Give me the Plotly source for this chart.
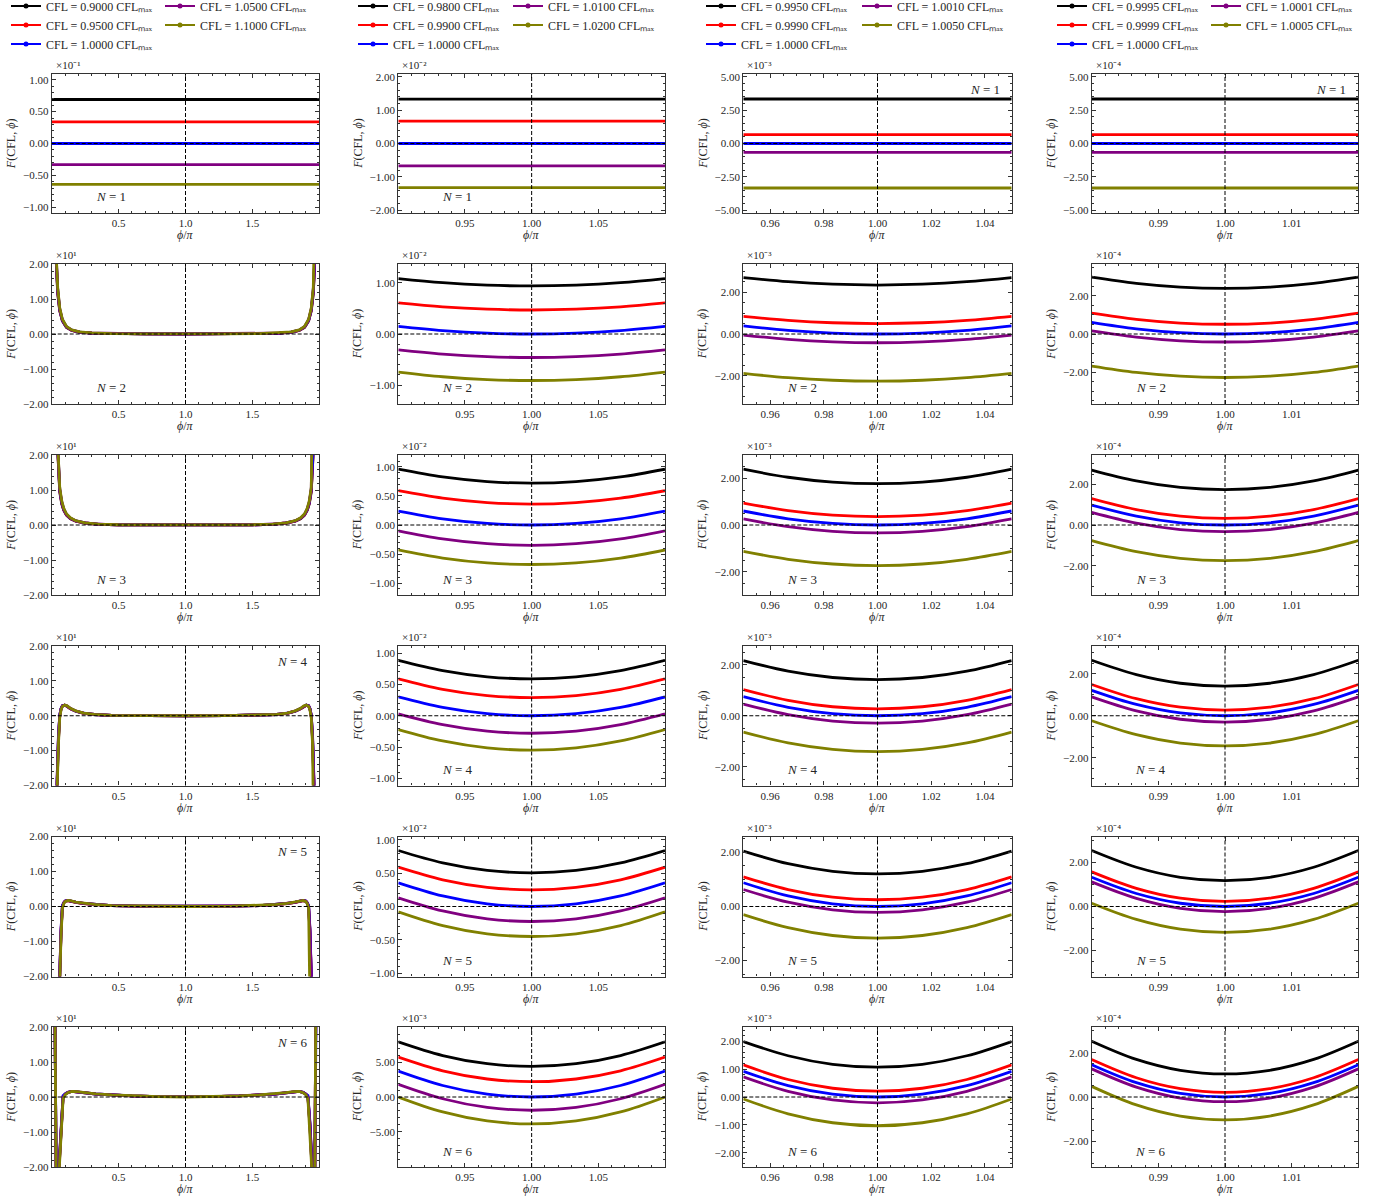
import plotly.graph_objects as go

W, H = 1379, 1202
FONT = "Liberation Serif"
TXT = "#262626"

# ---------------------------------------------------------------- data
colors = ["#000000", "#ff0000", "#0000ff", "#800080", "#808000"]

cfl_wide = ["0.9000", "0.9500", "1.0000", "1.0500", "1.1000"]
cfl_mid = ["0.9800", "0.9900", "1.0000", "1.0100", "1.0200"]
cfl_narrow = ["0.9950", "0.9990", "1.0000", "1.0010", "1.0050"]
cfl_fine = ["0.9995", "0.9999", "1.0000", "1.0001", "1.0005"]

N_values = [1, 2, 3, 4, 5, 6]

# --- full period, phi/pi in [0, 2]; N >= 2 given on [0, 1] (symmetric about phi = pi)
phi_wide_N1 = [0.0, 2.0]
F_wide_N1 = [
    [0.069, 0.069], [0.034, 0.034], [0.0, 0.0], [-0.033, -0.033], [-0.064, -0.064],
]

phi_wide_N2 = [0.02, 0.035, 0.045, 0.06, 0.08, 0.11, 0.15, 0.21, 0.30, 0.45, 0.70, 1.0]
F_wide_N2 = [
    [60, 19.5, 11.5, 6.6, 3.7, 1.9, 1.00, 0.50, 0.25, 0.10, 0.04, 0.0094],
    [61, 20.0, 12.0, 6.8, 3.8, 2.0, 1.05, 0.52, 0.26, 0.11, 0.04, 0.0047],
    [62, 20.5, 12.4, 7.0, 3.9, 2.05, 1.10, 0.54, 0.27, 0.11, 0.04, 0.0],
    [63, 21.0, 12.8, 7.2, 4.0, 2.1, 1.12, 0.56, 0.28, 0.11, 0.04, -0.0046],
    [64, 21.5, 13.2, 7.5, 4.2, 2.2, 1.18, 0.60, 0.30, 0.12, 0.04, -0.0091],
]

phi_wide_N3 = [0.03, 0.047, 0.06, 0.075, 0.09, 0.11, 0.14, 0.18, 0.25, 0.35, 0.5, 0.75, 1.0]
F_wide_N3 = [
    [80, 19.5, 9.5, 6.0, 4.2, 2.8, 1.8, 1.10, 0.55, 0.20, 0.06, 0.01, 0.0072],
    [82, 20.0, 9.8, 6.2, 4.3, 2.9, 1.85, 1.13, 0.57, 0.21, 0.06, 0.01, 0.0036],
    [84, 20.5, 10.1, 6.4, 4.45, 3.0, 1.9, 1.16, 0.58, 0.21, 0.06, 0.01, 0.0],
    [86, 21.0, 10.4, 6.6, 4.6, 3.1, 1.95, 1.20, 0.60, 0.22, 0.065, 0.01, -0.0035],
    [88, 21.5, 10.8, 6.9, 4.8, 3.2, 2.05, 1.25, 0.63, 0.23, 0.07, 0.01, -0.0068],
]

phi_wide_N4 = [0.03, 0.04, 0.05, 0.06, 0.07, 0.08, 0.097, 0.115, 0.14, 0.18, 0.24, 0.32, 0.45, 0.7, 1.0]
F_wide_N4 = [
    [-80, -20.0, -7.0, 0.0, 2.0, 2.8, 3.0, 2.7, 2.0, 1.3, 0.70, 0.35, 0.12, 0.02, 0.0059],
    [-78, -19.0, -6.5, 0.1, 2.05, 2.85, 3.0, 2.72, 2.02, 1.32, 0.71, 0.355, 0.12, 0.02, 0.0029],
    [-76, -18.5, -6.0, 0.2, 2.1, 2.9, 3.05, 2.75, 2.05, 1.34, 0.72, 0.36, 0.122, 0.02, 0.0],
    [-82, -20.5, -7.5, -0.2, 1.9, 2.75, 3.05, 2.78, 2.08, 1.36, 0.73, 0.365, 0.124, 0.02, -0.0028],
    [-86, -22.0, -8.5, -0.6, 1.7, 2.7, 3.1, 2.85, 2.12, 1.40, 0.75, 0.37, 0.126, 0.02, -0.0055],
]

phi_wide_N5 = [0.04, 0.06, 0.07, 0.08, 0.09, 0.10, 0.12, 0.14, 0.18, 0.24, 0.32, 0.45, 0.65, 1.0]
F_wide_N5 = [
    [-100, -20.0, -7.0, 0.0, 1.0, 1.5, 1.70, 1.60, 1.20, 0.85, 0.55, 0.25, 0.08, 0.0050],
    [-98, -19.5, -6.6, 0.15, 1.05, 1.52, 1.70, 1.60, 1.21, 0.86, 0.55, 0.25, 0.08, 0.0025],
    [-96, -19.0, -6.2, 0.3, 1.1, 1.55, 1.72, 1.62, 1.22, 0.87, 0.56, 0.25, 0.08, 0.0],
    [-102, -20.5, -7.4, -0.2, 0.95, 1.48, 1.72, 1.63, 1.24, 0.88, 0.56, 0.26, 0.08, -0.0023],
    [-106, -21.5, -8.2, -0.5, 0.8, 1.4, 1.74, 1.66, 1.27, 0.90, 0.58, 0.26, 0.085, -0.0045],
]

phi_wide_N6 = [0.005, 0.025, 0.035, 0.055, 0.07, 0.085, 0.10, 0.12, 0.15, 0.19, 0.25, 0.33, 0.45, 0.6, 0.8, 1.0]
F_wide_N6 = [
    [120, 30, -30, -20.0, -8.0, 0.0, 0.80, 1.30, 1.60, 1.50, 1.20, 0.85, 0.55, 0.30, 0.10, 0.0044],
    [118, 29, -29, -19.5, -7.6, 0.2, 0.85, 1.32, 1.60, 1.50, 1.20, 0.85, 0.55, 0.30, 0.10, 0.0022],
    [116, 28, -28, -19.0, -7.2, 0.4, 0.90, 1.34, 1.62, 1.52, 1.21, 0.86, 0.56, 0.30, 0.10, 0.0],
    [124, 32, -31, -20.5, -8.4, -0.2, 0.75, 1.28, 1.62, 1.53, 1.22, 0.87, 0.56, 0.31, 0.10, -0.0019],
    [128, 34, -33, -21.5, -9.2, -0.6, 0.60, 1.20, 1.62, 1.56, 1.25, 0.89, 0.58, 0.32, 0.11, -0.0039],
]

# --- close-ups around phi = pi
phi_mid_N1 = [0.90, 1.10]
F_mid_N1 = [[1.33e-2, 1.33e-2], [0.67e-2, 0.67e-2], [0.0, 0.0], [-0.67e-2, -0.67e-2], [-1.32e-2, -1.32e-2]]
phi_mid = [0.90, 0.9333, 0.9667, 1.00, 1.0333, 1.0667, 1.10]
F_mid_N2 = [
    [1.085e-2, 1.004e-2, 0.956e-2, 0.94e-2, 0.956e-2, 1.004e-2, 1.085e-2],
    [0.61e-2, 0.532e-2, 0.486e-2, 0.47e-2, 0.486e-2, 0.532e-2, 0.61e-2],
    [0.15e-2, 0.067e-2, 0.017e-2, 0.0, 0.017e-2, 0.067e-2, 0.15e-2],
    [-0.31e-2, -0.393e-2, -0.443e-2, -0.46e-2, -0.443e-2, -0.393e-2, -0.31e-2],
    [-0.745e-2, -0.837e-2, -0.892e-2, -0.91e-2, -0.892e-2, -0.837e-2, -0.745e-2],
]
F_mid_N3 = [
    [0.96e-2, 0.827e-2, 0.747e-2, 0.72e-2, 0.747e-2, 0.827e-2, 0.96e-2],
    [0.59e-2, 0.462e-2, 0.386e-2, 0.36e-2, 0.386e-2, 0.462e-2, 0.59e-2],
    [0.24e-2, 0.107e-2, 0.027e-2, 0.0, 0.027e-2, 0.107e-2, 0.24e-2],
    [-0.10e-2, -0.239e-2, -0.322e-2, -0.35e-2, -0.322e-2, -0.239e-2, -0.10e-2],
    [-0.43e-2, -0.569e-2, -0.652e-2, -0.68e-2, -0.652e-2, -0.569e-2, -0.43e-2],
]
F_mid_N4 = [
    [0.885e-2, 0.721e-2, 0.623e-2, 0.59e-2, 0.623e-2, 0.721e-2, 0.885e-2],
    [0.59e-2, 0.423e-2, 0.323e-2, 0.29e-2, 0.323e-2, 0.423e-2, 0.59e-2],
    [0.30e-2, 0.133e-2, 0.033e-2, 0.0, 0.033e-2, 0.133e-2, 0.30e-2],
    [0.03e-2, -0.142e-2, -0.246e-2, -0.28e-2, -0.246e-2, -0.142e-2, 0.03e-2],
    [-0.22e-2, -0.403e-2, -0.513e-2, -0.55e-2, -0.513e-2, -0.403e-2, -0.22e-2],
]
F_mid_N5 = [
    [0.84e-2, 0.654e-2, 0.542e-2, 0.505e-2, 0.542e-2, 0.654e-2, 0.84e-2],
    [0.59e-2, 0.401e-2, 0.288e-2, 0.25e-2, 0.288e-2, 0.401e-2, 0.59e-2],
    [0.355e-2, 0.158e-2, 0.039e-2, 0.0, 0.039e-2, 0.158e-2, 0.355e-2],
    [0.13e-2, -0.067e-2, -0.186e-2, -0.225e-2, -0.186e-2, -0.067e-2, 0.13e-2],
    [-0.08e-2, -0.286e-2, -0.409e-2, -0.45e-2, -0.409e-2, -0.286e-2, -0.08e-2],
]
F_mid_N6 = [
    [7.94e-3, 5.973e-3, 4.793e-3, 4.40e-3, 4.793e-3, 5.973e-3, 7.94e-3],
    [5.74e-3, 3.773e-3, 2.593e-3, 2.20e-3, 2.593e-3, 3.773e-3, 5.74e-3],
    [3.73e-3, 1.658e-3, 0.414e-3, 0.0, 0.414e-3, 1.658e-3, 3.73e-3],
    [1.82e-3, -0.252e-3, -1.496e-3, -1.91e-3, -1.496e-3, -0.252e-3, 1.82e-3],
    [0.0, -2.156e-3, -3.449e-3, -3.88e-3, -3.449e-3, -2.156e-3, 0.0],
]

phi_narrow_N1 = [0.95, 1.05]
F_narrow_N1 = [[3.33e-3, 3.33e-3], [0.67e-3, 0.67e-3], [0.0, 0.0], [-0.67e-3, -0.67e-3], [-3.33e-3, -3.33e-3]]
phi_narrow = [0.95, 0.9667, 0.9833, 1.00, 1.0167, 1.0333, 1.05]
F_narrow_N2 = [
    [2.71e-3, 2.51e-3, 2.39e-3, 2.35e-3, 2.39e-3, 2.51e-3, 2.71e-3],
    [0.85e-3, 0.656e-3, 0.539e-3, 0.50e-3, 0.539e-3, 0.656e-3, 0.85e-3],
    [0.39e-3, 0.173e-3, 0.043e-3, 0.0, 0.043e-3, 0.173e-3, 0.39e-3],
    [-0.05e-3, -0.256e-3, -0.379e-3, -0.42e-3, -0.379e-3, -0.256e-3, -0.05e-3],
    [-1.89e-3, -2.096e-3, -2.219e-3, -2.26e-3, -2.219e-3, -2.096e-3, -1.89e-3],
]
F_narrow_N3 = [
    [2.39e-3, 2.046e-3, 1.839e-3, 1.77e-3, 1.839e-3, 2.046e-3, 2.39e-3],
    [0.94e-3, 0.618e-3, 0.424e-3, 0.36e-3, 0.424e-3, 0.618e-3, 0.94e-3],
    [0.60e-3, 0.267e-3, 0.067e-3, 0.0, 0.067e-3, 0.267e-3, 0.60e-3],
    [0.26e-3, -0.073e-3, -0.273e-3, -0.34e-3, -0.273e-3, -0.073e-3, 0.26e-3],
    [-1.13e-3, -1.469e-3, -1.672e-3, -1.74e-3, -1.672e-3, -1.469e-3, -1.13e-3],
]
F_narrow_N4 = [
    [2.17e-3, 1.753e-3, 1.503e-3, 1.42e-3, 1.503e-3, 1.753e-3, 2.17e-3],
    [1.03e-3, 0.608e-3, 0.354e-3, 0.27e-3, 0.354e-3, 0.608e-3, 1.03e-3],
    [0.75e-3, 0.333e-3, 0.083e-3, 0.0, 0.083e-3, 0.333e-3, 0.75e-3],
    [0.46e-3, 0.043e-3, -0.207e-3, -0.29e-3, -0.207e-3, 0.043e-3, 0.46e-3],
    [-0.64e-3, -1.068e-3, -1.324e-3, -1.41e-3, -1.324e-3, -1.068e-3, -0.64e-3],
]
F_narrow_N5 = [
    [2.05e-3, 1.583e-3, 1.303e-3, 1.21e-3, 1.303e-3, 1.583e-3, 2.05e-3],
    [1.10e-3, 0.628e-3, 0.344e-3, 0.25e-3, 0.344e-3, 0.628e-3, 1.10e-3],
    [0.88e-3, 0.391e-3, 0.098e-3, 0.0, 0.098e-3, 0.391e-3, 0.88e-3],
    [0.63e-3, 0.158e-3, -0.126e-3, -0.22e-3, -0.126e-3, 0.158e-3, 0.63e-3],
    [-0.30e-3, -0.783e-3, -1.073e-3, -1.17e-3, -1.073e-3, -0.783e-3, -0.30e-3],
]
F_narrow_N6 = [
    [1.99e-3, 1.479e-3, 1.172e-3, 1.07e-3, 1.172e-3, 1.479e-3, 1.99e-3],
    [1.15e-3, 0.628e-3, 0.314e-3, 0.21e-3, 0.314e-3, 0.628e-3, 1.15e-3],
    [0.92e-3, 0.409e-3, 0.102e-3, 0.0, 0.102e-3, 0.409e-3, 0.92e-3],
    [0.72e-3, 0.203e-3, -0.107e-3, -0.21e-3, -0.107e-3, 0.203e-3, 0.72e-3],
    [-0.07e-3, -0.603e-3, -0.923e-3, -1.03e-3, -0.923e-3, -0.603e-3, -0.07e-3],
]

phi_fine_N1 = [0.98, 1.02]
F_fine_N1 = [[3.33e-4, 3.33e-4], [0.67e-4, 0.67e-4], [0.0, 0.0], [-0.67e-4, -0.67e-4], [-3.33e-4, -3.33e-4]]
phi_fine = [0.98, 0.9867, 0.9933, 1.00, 1.0067, 1.0133, 1.02]
F_fine_N2 = [
    [2.98e-4, 2.652e-4, 2.456e-4, 2.39e-4, 2.456e-4, 2.652e-4, 2.98e-4],
    [1.09e-4, 0.768e-4, 0.574e-4, 0.51e-4, 0.574e-4, 0.768e-4, 1.09e-4],
    [0.61e-4, 0.271e-4, 0.068e-4, 0.0, 0.068e-4, 0.271e-4, 0.61e-4],
    [0.16e-4, -0.162e-4, -0.356e-4, -0.42e-4, -0.356e-4, -0.162e-4, 0.16e-4],
    [-1.68e-4, -2.013e-4, -2.213e-4, -2.28e-4, -2.213e-4, -2.013e-4, -1.68e-4],
]
F_fine_N3 = [
    [2.70e-4, 2.167e-4, 1.847e-4, 1.74e-4, 1.847e-4, 2.167e-4, 2.70e-4],
    [1.30e-4, 0.761e-4, 0.438e-4, 0.33e-4, 0.438e-4, 0.761e-4, 1.30e-4],
    [0.98e-4, 0.436e-4, 0.109e-4, 0.0, 0.109e-4, 0.436e-4, 0.98e-4],
    [0.62e-4, 0.092e-4, -0.224e-4, -0.33e-4, -0.224e-4, 0.092e-4, 0.62e-4],
    [-0.77e-4, -1.314e-4, -1.641e-4, -1.75e-4, -1.641e-4, -1.314e-4, -0.77e-4],
]
F_fine_N4 = [
    [2.64e-4, 1.957e-4, 1.547e-4, 1.41e-4, 1.547e-4, 1.957e-4, 2.64e-4],
    [1.49e-4, 0.812e-4, 0.406e-4, 0.27e-4, 0.406e-4, 0.812e-4, 1.49e-4],
    [1.21e-4, 0.538e-4, 0.134e-4, 0.0, 0.134e-4, 0.538e-4, 1.21e-4],
    [0.90e-4, 0.233e-4, -0.167e-4, -0.30e-4, -0.167e-4, 0.233e-4, 0.90e-4],
    [-0.24e-4, -0.901e-4, -1.298e-4, -1.43e-4, -1.298e-4, -0.901e-4, -0.24e-4],
]
F_fine_N5 = [
    [2.55e-4, 1.789e-4, 1.332e-4, 1.18e-4, 1.332e-4, 1.789e-4, 2.55e-4],
    [1.58e-4, 0.830e-4, 0.380e-4, 0.23e-4, 0.380e-4, 0.830e-4, 1.58e-4],
    [1.33e-4, 0.591e-4, 0.148e-4, 0.0, 0.148e-4, 0.591e-4, 1.33e-4],
    [1.12e-4, 0.370e-4, -0.080e-4, -0.23e-4, -0.080e-4, 0.370e-4, 1.12e-4],
    [0.15e-4, -0.589e-4, -1.032e-4, -1.18e-4, -1.032e-4, -0.589e-4, 0.15e-4],
]
F_fine_N6 = [
    [2.52e-4, 1.698e-4, 1.204e-4, 1.04e-4, 1.204e-4, 1.698e-4, 2.52e-4],
    [1.69e-4, 0.868e-4, 0.374e-4, 0.21e-4, 0.374e-4, 0.868e-4, 1.69e-4],
    [1.46e-4, 0.649e-4, 0.162e-4, 0.0, 0.162e-4, 0.649e-4, 1.46e-4],
    [1.27e-4, 0.448e-4, -0.046e-4, -0.21e-4, -0.046e-4, 0.448e-4, 1.27e-4],
    [0.48e-4, -0.359e-4, -0.862e-4, -1.03e-4, -0.862e-4, -0.359e-4, 0.48e-4],
]

# axis settings per column (one entry per N)
xticks_wide, xticks_mid = [0.5, 1.0, 1.5], [0.95, 1.00, 1.05]
xticks_narrow, xticks_fine = [0.96, 0.98, 1.00, 1.02, 1.04], [0.99, 1.00, 1.01]

exp_wide = [-1, 1, 1, 1, 1, 1]
exp_mid = [-2, -2, -2, -2, -2, -3]
exp_narrow = [-3, -3, -3, -3, -3, -3]
exp_fine = [-4, -4, -4, -4, -4, -4]

ylim_wide = [1.09, 2.0, 2.0, 2.0, 2.0, 2.0]
ylim_mid = [2.08, 1.37, 1.205, 1.115, 1.05, 10.08]
ylim_narrow = [5.2, 3.36, 3.0, 2.74, 2.59, 2.51]
ylim_fine = [5.2, 3.67, 3.44, 3.32, 3.19, 3.16]

yticks_wide = [[-1, -0.5, 0, 0.5, 1]] + [[-2, -1, 0, 1, 2]] * 5
yticks_mid = [[-2, -1, 0, 1, 2], [-1, 0, 1], [-1, -0.5, 0, 0.5, 1],
              [-1, -0.5, 0, 0.5, 1], [-1, -0.5, 0, 0.5, 1], [-5, 0, 5]]
yticks_narrow = [[-5, -2.5, 0, 2.5, 5]] + [[-2, 0, 2]] * 4 + [[-2, -1, 0, 1, 2]]
yticks_fine = [[-5, -2.5, 0, 2.5, 5]] + [[-2, 0, 2]] * 5

yminor_wide = [0.1, 0.2, 0.2, 0.2, 0.2, 0.2]
yminor_mid = [0.2, 0.2, 0.1, 0.1, 0.1, 1.0]
yminor_narrow = [0.5, 0.5, 0.5, 0.5, 0.5, 0.2]
yminor_fine = [0.5, 0.5, 0.5, 0.5, 0.5, 0.5]


# ---------------------------------------------------------------- helpers
def mirrored(phi_half, vals):
    """Extend a half-period curve to the full period (symmetric about phi = pi)."""
    x = list(phi_half) + [2.0 - p for p in reversed(phi_half[:-1])]
    y = list(vals) + list(reversed(vals[:-1]))
    return x, y


wide_rows = [(phi_wide_N1, F_wide_N1, False)] + [
    (p, f, True) for p, f in [(phi_wide_N2, F_wide_N2), (phi_wide_N3, F_wide_N3),
                              (phi_wide_N4, F_wide_N4), (phi_wide_N5, F_wide_N5),
                              (phi_wide_N6, F_wide_N6)]]
mid_rows = [(phi_mid_N1, F_mid_N1, False)] + [
    (phi_mid, f, False) for f in [F_mid_N2, F_mid_N3, F_mid_N4, F_mid_N5, F_mid_N6]]
narrow_rows = [(phi_narrow_N1, F_narrow_N1, False)] + [
    (phi_narrow, f, False) for f in [F_narrow_N2, F_narrow_N3, F_narrow_N4, F_narrow_N5, F_narrow_N6]]
fine_rows = [(phi_fine_N1, F_fine_N1, False)] + [
    (phi_fine, f, False) for f in [F_fine_N2, F_fine_N3, F_fine_N4, F_fine_N5, F_fine_N6]]

columns = [
    dict(cfl=cfl_wide, rows=wide_rows, xr=(0.0, 2.0), xt=xticks_wide, xfmt="{:.1f}", xminor=0.1,
         exp=exp_wide, ylim=ylim_wide, yt=yticks_wide, yminor=yminor_wide, shape="linear"),
    dict(cfl=cfl_mid, rows=mid_rows, xr=(0.9, 1.1), xt=xticks_mid, xfmt="{:.2f}", xminor=0.01,
         exp=exp_mid, ylim=ylim_mid, yt=yticks_mid, yminor=yminor_mid, shape="spline"),
    dict(cfl=cfl_narrow, rows=narrow_rows, xr=(0.95, 1.05), xt=xticks_narrow, xfmt="{:.2f}", xminor=0.005,
         exp=exp_narrow, ylim=ylim_narrow, yt=yticks_narrow, yminor=yminor_narrow, shape="spline"),
    dict(cfl=cfl_fine, rows=fine_rows, xr=(0.98, 1.02), xt=xticks_fine, xfmt="{:.2f}", xminor=0.002,
         exp=exp_fine, ylim=ylim_fine, yt=yticks_fine, yminor=yminor_fine, shape="spline"),
]

# panel geometry in pixels
col_px = [(51.7, 319.3), (398.3, 665.0), (743.3, 1011.7), (1091.7, 1358.3)]
row_px = [(74, 213), (264, 404), (455, 595), (646, 785.5), (836.5, 976.5), (1027, 1167)]
# where the "N = ..." tag sits: bottom-left unless listed here
tag_top_right = {(0, 2), (0, 3), (3, 0), (4, 0), (5, 0)}

SUPERSCRIPT = str.maketrans("-0123456789", "⁻⁰¹²³⁴⁵⁶⁷⁸⁹")


def px_x(v):
    return v / W


def px_y(v):
    return 1 - v / H


def sup_exp(e):
    return "×10" + str(e).translate(SUPERSCRIPT)


fig = go.Figure()
layout = dict(
    width=W, height=H,
    margin=dict(l=0, r=0, t=0, b=0, autoexpand=False),
    paper_bgcolor="white", plot_bgcolor="white",
    font=dict(family=FONT, size=11, color=TXT),
    showlegend=True,
)
shapes, annotations = [], []
axis_line = "#333333"

for r in range(6):
    for c, col in enumerate(columns):
        k = r * 4 + c + 1
        xs = "" if k == 1 else str(k)
        xref, yref = "x" + xs, "y" + xs
        x0, x1 = col_px[c]
        y0, y1 = row_px[r]
        scale = 10.0 ** col["exp"][r]

        phi, F, half = col["rows"][r]
        for i in range(5):
            if half:
                xx, yy = mirrored(phi, F[i])
            else:
                xx, yy = phi, F[i]
            fig.add_trace(go.Scatter(
                x=xx, y=[v / scale for v in yy], mode="lines",
                line=dict(color=colors[i], width=2.8, shape=col["shape"], smoothing=1.0),
                xaxis=xref, yaxis=yref, showlegend=False, hoverinfo="skip"))

        common = dict(showgrid=False, zeroline=False, showline=True, linecolor=axis_line,
                      linewidth=1.1, mirror="allticks", ticks="inside", ticklen=4,
                      tickwidth=1, tickcolor=axis_line,
                      tickfont=dict(family=FONT, size=11, color=TXT))
        layout["xaxis" + xs] = dict(
            common, domain=[px_x(x0), px_x(x1)], anchor=yref, range=list(col["xr"]),
            tickmode="array", tickvals=col["xt"], ticktext=[col["xfmt"].format(v) for v in col["xt"]],
            minor=dict(ticks="inside", ticklen=2, tickwidth=0.8, tickcolor=axis_line,
                       tick0=0, dtick=col["xminor"], showgrid=False))
        lim = col["ylim"][r]
        layout["yaxis" + xs] = dict(
            common, domain=[px_y(y1), px_y(y0)], anchor=xref, range=[-lim, lim],
            tickmode="array", tickvals=col["yt"][r], tickformat=".2f",
            minor=dict(ticks="inside", ticklen=2, tickwidth=0.8, tickcolor=axis_line,
                       tick0=0, dtick=col["yminor"][r], showgrid=False))

        # dashed guides at phi = pi and F = 0
        dash = dict(color="black", width=1, dash="4px,2px")
        shapes.append(dict(type="line", xref=xref, yref=yref + " domain", x0=1, x1=1, y0=0, y1=1,
                           line=dash, layer="above"))
        shapes.append(dict(type="line", xref=xref + " domain", yref=yref, x0=0, x1=1, y0=0, y1=0,
                           line=dash, layer="above"))

        # offset text, axis titles, N tag
        annotations.append(dict(xref="paper", yref="paper", x=px_x(x0 + 2), y=px_y(y0 - 1),
                                xanchor="left", yanchor="bottom", showarrow=False,
                                text=sup_exp(col["exp"][r]), font=dict(size=11, color=TXT)))
        annotations.append(dict(xref="paper", yref="paper", x=px_x((x0 + x1) / 2), y=px_y(y1 + 22),
                                xanchor="center", yanchor="middle", showarrow=False,
                                text="<i>ϕ</i>/<i>π</i>", font=dict(size=12, color=TXT)))
        annotations.append(dict(xref="paper", yref="paper", x=px_x(x0 - 41), y=px_y((y0 + y1) / 2),
                                xanchor="center", yanchor="middle", showarrow=False, textangle=-90,
                                text="<i>F</i>(CFL, <i>ϕ</i>)", font=dict(size=12, color=TXT)))
        if (r, c) in tag_top_right:
            tx, ty = x1 - 27, y0 + 15
        else:
            tx, ty = x0 + 59, y1 - 16
        annotations.append(dict(xref="paper", yref="paper", x=px_x(tx), y=px_y(ty),
                                xanchor="center", yanchor="middle", showarrow=False,
                                text=f"<i>N</i> = {N_values[r]}", font=dict(size=13, color=TXT)))

# legends: two stacked columns of entries above each column of panels
legend_left_px = [6, 160, 353, 508, 701, 857, 1052, 1206]
for c, col in enumerate(columns):
    for i, v in enumerate(col["cfl"]):
        li = 2 * c + (0 if i < 3 else 1)
        lid = "legend" if li == 0 else f"legend{li + 1}"
        fig.add_trace(go.Scatter(
            x=[None], y=[None], mode="lines+markers", name=f"CFL = {v} CFLₘₐₓ",
            line=dict(color=colors[i], width=2), marker=dict(color=colors[i], size=5),
            xaxis="x", yaxis="y", legend=lid, showlegend=True, hoverinfo="skip"))
for li, lx in enumerate(legend_left_px):
    lid = "legend" if li == 0 else f"legend{li + 1}"
    layout[lid] = dict(x=px_x(lx), y=1 + 8.5 / H, xanchor="left", yanchor="top",
                       bgcolor="rgba(0,0,0,0)", borderwidth=0, orientation="v",
                       traceorder="normal", font=dict(family=FONT, size=12, color=TXT))

layout["shapes"] = shapes
layout["annotations"] = annotations
fig.update_layout(**layout)
fig.write_html("out.html")
